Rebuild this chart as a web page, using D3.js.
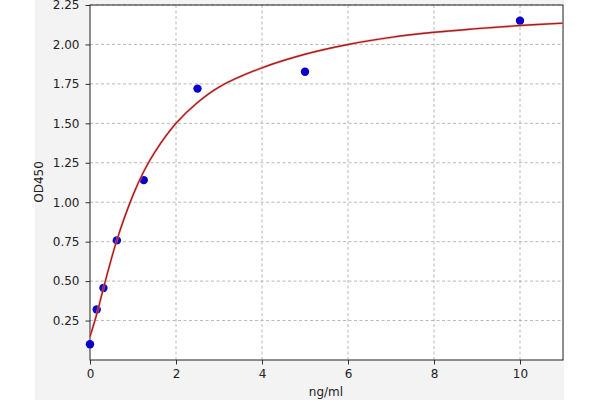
<!DOCTYPE html>
<html><head><meta charset="utf-8">
<script src="https://cdn.jsdelivr.net/npm/d3@7"></script>
<style>body{margin:0;background:#fff;}svg{display:block;}</style>
</head><body>
<svg id="c" width="600" height="400"></svg>
<script>
const pointX = [0, 0.156, 0.3125, 0.625, 1.25, 2.5, 5, 10];
const pointY = [0.10, 0.32, 0.456, 0.758, 1.14, 1.72, 1.827, 2.15];
const curveX = [0, 0.156, 0.3125, 0.625, 1, 1.25, 1.5, 2, 2.5, 3, 4, 5, 6, 7, 8, 9, 10, 11];
const curveY = [0.148, 0.29, 0.455, 0.76, 1.045, 1.195, 1.315, 1.5, 1.632, 1.73, 1.852, 1.938, 2.0, 2.045, 2.077, 2.1, 2.12, 2.135];
const xTicks = [0, 2, 4, 6, 8, 10];
const yTicks = [0.25, 0.50, 0.75, 1.00, 1.25, 1.50, 1.75, 2.00, 2.25];

const svg = d3.select("#c");
const L = 90, R = 563, T = 5, B = 360;
svg.append("rect").attr("x", 35).attr("y", 0).attr("width", 529).attr("height", 400).attr("fill", "#f3f3f3");
svg.append("rect").attr("x", L).attr("y", T).attr("width", R - L).attr("height", B - T).attr("fill", "#fff");

const x = d3.scaleLinear().domain([0, 11]).range([L, R]);
const y = d3.scaleLinear().domain([0, 2.25]).range([B, T]);

const grid = svg.append("g").attr("stroke", "#b0b0b0").attr("stroke-dasharray", "3,2.5").attr("stroke-width", 0.9);
xTicks.filter(d => d > 0).forEach(d => grid.append("line").attr("x1", x(d)).attr("x2", x(d)).attr("y1", T).attr("y2", B));
yTicks.forEach(d => grid.append("line").attr("x1", L).attr("x2", R).attr("y1", y(d)).attr("y2", y(d)));

const font = "DejaVu Sans, sans-serif";
const xa = svg.append("g").attr("transform", `translate(0,${B})`)
  .call(d3.axisBottom(x).tickValues(xTicks).tickSize(4.5).tickPadding(4.5).tickFormat(d3.format("d")));
const ya = svg.append("g").attr("transform", `translate(${L},0)`)
  .call(d3.axisLeft(y).tickValues(yTicks).tickSize(4.5).tickPadding(6).tickFormat(d3.format(".2f")));
[xa, ya].forEach(a => {
  a.select(".domain").remove();
  a.selectAll("text").attr("font-family", font).attr("font-size", 12).attr("fill", "#222");
  a.selectAll("line").attr("stroke", "#333");
});

svg.append("rect").attr("x", L).attr("y", T).attr("width", R - L).attr("height", B - T)
  .attr("fill", "none").attr("stroke", "#222").attr("stroke-width", 1);

const pts = pointX.map((d, i) => [d, pointY[i]]);
svg.append("g").selectAll("circle").data(pts).join("circle")
  .attr("cx", d => x(d[0])).attr("cy", d => y(d[1])).attr("r", 4.2).attr("fill", "#0a00c8");

const cpts = curveX.map((d, i) => [d, curveY[i]]);
const line = d3.line().x(d => x(d[0])).y(d => y(d[1])).curve(d3.curveCatmullRom.alpha(0.5));
svg.append("path").datum(cpts).attr("d", line).attr("fill", "none")
  .attr("stroke", "#f4a0a0").attr("stroke-width", 2.6).attr("opacity", 0.6);
svg.append("path").datum(cpts).attr("d", line).attr("fill", "none")
  .attr("stroke", "#a81c1c").attr("stroke-width", 1.4);

svg.append("text").attr("x", 326).attr("y", 396).attr("text-anchor", "middle")
  .attr("font-family", font).attr("font-size", 12).attr("fill", "#222").text("ng/ml");
svg.append("text").attr("transform", `translate(43,182) rotate(-90)`).attr("text-anchor", "middle")
  .attr("font-family", font).attr("font-size", 12).attr("fill", "#222").text("OD450");
</script>
</body></html>
